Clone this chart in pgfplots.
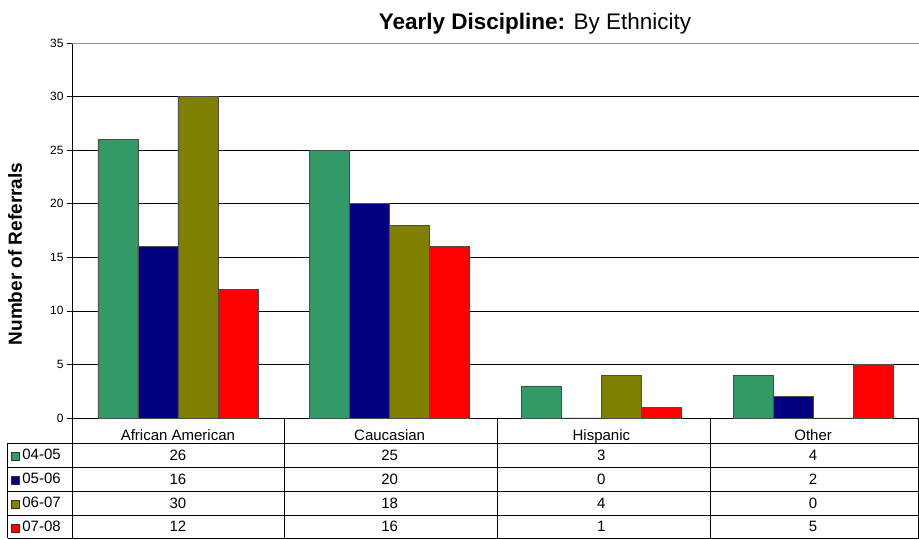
\documentclass[border=0pt]{standalone}
\usepackage{pgfplots}
\pgfplotsset{compat=1.18}
\usepackage{pgfplotstable}
\usepackage{fontspec}
\setmainfont{Liberation Sans}

\definecolor{yrA}{HTML}{339966}
\definecolor{yrB}{HTML}{000080}
\definecolor{yrC}{HTML}{808000}
\definecolor{yrD}{HTML}{FF0000}

% referrals per ethnicity (0 = African American, 1 = Caucasian, 2 = Hispanic, 3 = Other)
\pgfplotstableread{
x v
0 26
1 25
2 3
3 4
}\tblA
\pgfplotstableread{
x v
0 16
1 20
2 0
3 2
}\tblB
\pgfplotstableread{
x v
0 30
1 18
2 4
3 0
}\tblC
\pgfplotstableread{
x v
0 12
1 16
2 1
3 5
}\tblD

\newcommand{\swatch}[1]{{\fboxsep=0pt\fboxrule=0.6pt\fcolorbox{black!80}{#1}{\rule{0pt}{7.5pt}\rule{7.5pt}{0pt}}}}
\newcommand{\tfont}{\fontsize{15}{17}\selectfont}

\begin{document}
\begin{tikzpicture}[x=1pt,y=1pt]
\useasboundingbox (0,0) rectangle (919,540);
\begin{axis}[
  at={(72pt,122pt)}, anchor=south west,
  scale only axis, width=847pt, height=375pt,
  xmin=-0.5, xmax=3.5, ymin=0, ymax=35,
  ytick={0,5,...,30},
  extra y ticks={35},
  extra y tick style={major grid style={gray!85, line width=0.7pt}},
  xtick={0,1,2,3},
  xticklabels={African American,Caucasian,Hispanic,Other},
  xtick style={draw=none},
  xticklabel style={anchor=base, yshift=-18pt, font=\tfont},
  yticklabel style={font=\fontsize{12}{14}\selectfont},
  /pgf/number format/assume math mode=true,
  tick align=outside, major tick length=5pt,
  ytick style={black, line width=0.7pt},
  ymajorgrids, grid style={black, line width=0.7pt},
  axis x line*=bottom, axis y line*=left,
  axis line style={black, line width=0.8pt},
  clip=false,
  every node near coord/.append style={anchor=center, font=\tfont, text=black},
]
\addplot[ybar, bar width=40pt, bar shift=-60pt, fill=yrA, draw=black!70, line width=0.6pt] table[x=x,y=v]{\tblA};
\addplot[ybar, bar width=40pt, bar shift=-20pt, fill=yrB, draw=black!70, line width=0.6pt] table[x=x,y=v]{\tblB};
\addplot[ybar, bar width=40pt, bar shift=20pt, fill=yrC, draw=black!70, line width=0.6pt] table[x=x,y=v]{\tblC};
\addplot[ybar, bar width=40pt, bar shift=60pt, fill=yrD, draw=black!70, line width=0.6pt] table[x=x,y=v]{\tblD};

% data table values, one row per school year
\addplot[draw=none, mark=none, point meta=explicit, nodes near coords={\pgfmathprintnumber{\pgfplotspointmeta}}] table[x=x, y expr=-3.45, meta=v]{\tblA};
\addplot[draw=none, mark=none, point meta=explicit, nodes near coords={\pgfmathprintnumber{\pgfplotspointmeta}}] table[x=x, y expr=-5.69, meta=v]{\tblB};
\addplot[draw=none, mark=none, point meta=explicit, nodes near coords={\pgfmathprintnumber{\pgfplotspointmeta}}] table[x=x, y expr=-7.93, meta=v]{\tblC};
\addplot[draw=none, mark=none, point meta=explicit, nodes near coords={\pgfmathprintnumber{\pgfplotspointmeta}}] table[x=x, y expr=-10.15, meta=v]{\tblD};
\end{axis}

% data table grid
\begin{scope}[black, line width=0.7pt]
  \draw (7.5,97) -- (918.5,97);
  \draw (7.5,73) -- (918.5,73);
  \draw (7.5,49) -- (918.5,49);
  \draw (7.5,25) -- (918.5,25);
  \draw (7.5,1.5) -- (918.5,1.5);
  \draw (7.5,97) -- (7.5,1.5);
  \draw (72,122) -- (72,1.5);
  \draw (284,122) -- (284,1.5);
  \draw (497,122) -- (497,1.5);
  \draw (710,122) -- (710,1.5);
  \draw (918.5,122) -- (918.5,1.5);
\end{scope}

% row labels with series keys
\node[anchor=west, font=\tfont, inner sep=0pt] at (11,85) {\swatch{yrA}\,04-05};
\node[anchor=west, font=\tfont, inner sep=0pt] at (11,61) {\swatch{yrB}\,05-06};
\node[anchor=west, font=\tfont, inner sep=0pt] at (11,37) {\swatch{yrC}\,06-07};
\node[anchor=west, font=\tfont, inner sep=0pt] at (11,13.25) {\swatch{yrD}\,07-08};

% titles
\node[font=\fontsize{22.5}{26}\selectfont] at (535,516) {\textbf{Yearly Discipline:} By Ethnicity};
\node[rotate=90, font=\fontsize{19}{22}\selectfont\bfseries] at (15,286) {Number of Referrals};
\end{tikzpicture}
\end{document}
